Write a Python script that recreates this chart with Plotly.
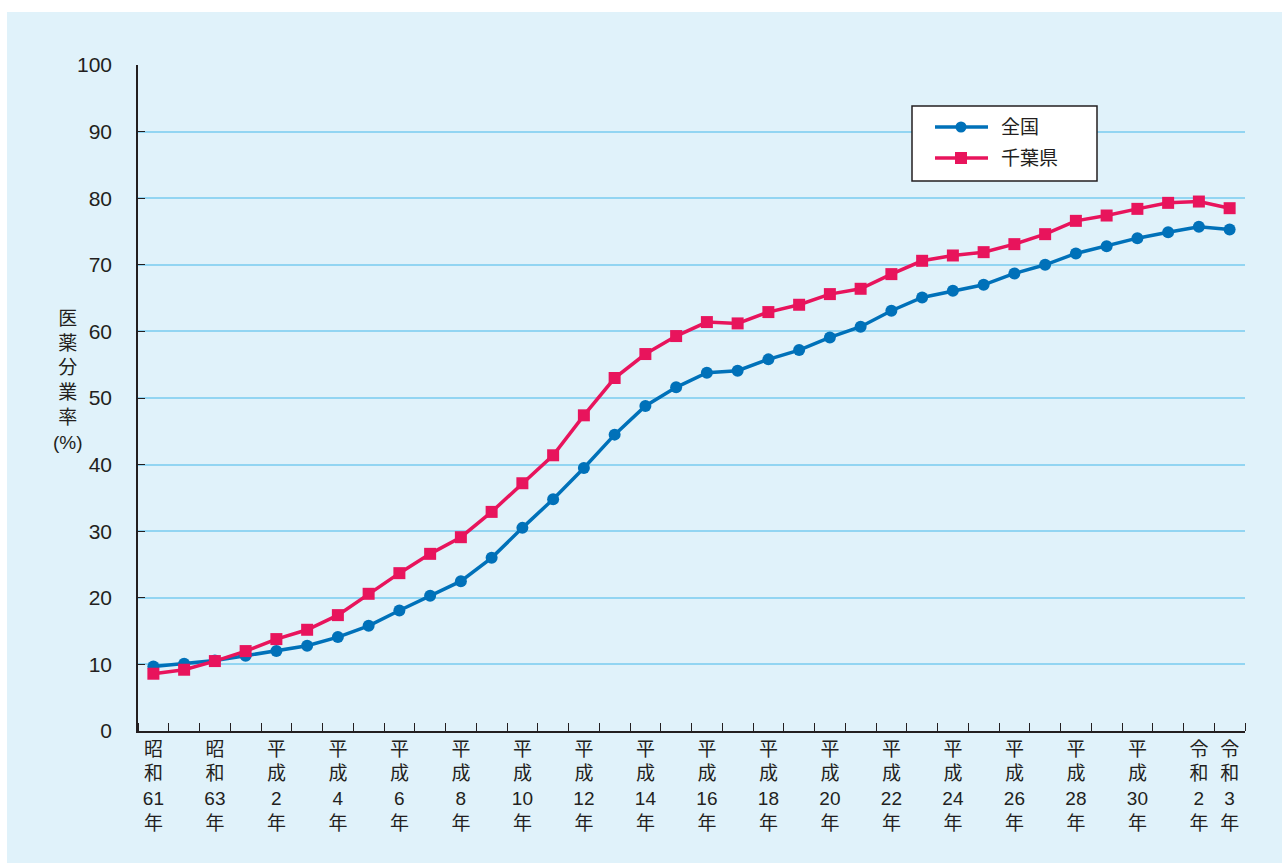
import plotly.graph_objects as go

# Fiscal-year labels (Showa 61 through Reiwa 3)
years = [
    "昭和61年", "昭和62年", "昭和63年", "平成元年", "平成2年", "平成3年", "平成4年",
    "平成5年", "平成6年", "平成7年", "平成8年", "平成9年", "平成10年", "平成11年",
    "平成12年", "平成13年", "平成14年", "平成15年", "平成16年", "平成17年", "平成18年",
    "平成19年", "平成20年", "平成21年", "平成22年", "平成23年", "平成24年", "平成25年",
    "平成26年", "平成27年", "平成28年", "平成29年", "平成30年", "令和元年", "令和2年",
    "令和3年",
]

# Prescription separation rate (%)
national = [
    9.7, 10.1, 10.6, 11.3, 12.0, 12.8, 14.1, 15.8, 18.1, 20.3, 22.5, 26.0,
    30.5, 34.8, 39.5, 44.5, 48.8, 51.6, 53.8, 54.1, 55.8, 57.2, 59.1, 60.7,
    63.1, 65.1, 66.1, 67.0, 68.7, 70.0, 71.7, 72.8, 74.0, 74.9, 75.7, 75.3,
]
chiba = [
    8.6, 9.2, 10.5, 12.0, 13.8, 15.2, 17.4, 20.6, 23.7, 26.6, 29.1, 32.9,
    37.2, 41.4, 47.4, 53.0, 56.6, 59.3, 61.4, 61.2, 62.9, 64.0, 65.6, 66.4,
    68.6, 70.6, 71.4, 71.9, 73.1, 74.6, 76.6, 77.4, 78.4, 79.3, 79.5, 78.5,
]

# Axis labels shown under the chart (stacked vertically)
label_idx = [0, 2, 4, 6, 8, 10, 12, 14, 16, 18, 20, 22, 24, 26, 28, 30, 32, 34, 35]
label_text = [
    "昭<br>和<br>61<br>年", "昭<br>和<br>63<br>年", "平<br>成<br>2<br>年",
    "平<br>成<br>4<br>年", "平<br>成<br>6<br>年", "平<br>成<br>8<br>年",
    "平<br>成<br>10<br>年", "平<br>成<br>12<br>年", "平<br>成<br>14<br>年",
    "平<br>成<br>16<br>年", "平<br>成<br>18<br>年", "平<br>成<br>20<br>年",
    "平<br>成<br>22<br>年", "平<br>成<br>24<br>年", "平<br>成<br>26<br>年",
    "平<br>成<br>28<br>年", "平<br>成<br>30<br>年", "令<br>和<br>2<br>年",
    "令<br>和<br>3<br>年",
]

FONT = "Liberation Sans, Noto Sans CJK JP, sans-serif"
BG = "#e0f2fa"
GRID = "#92d5f2"
BLUE = "#0071b9"
PINK = "#e8145c"
INK = "#231f20"

x = list(range(len(years)))

fig = go.Figure()
fig.add_trace(go.Scatter(
    x=x, y=national, name="全国", mode="lines+markers",
    line=dict(color=BLUE, width=3.5),
    marker=dict(symbol="circle", size=12, color=BLUE),
    customdata=years, hovertemplate="%{customdata}: %{y}%<extra>全国</extra>",
))
fig.add_trace(go.Scatter(
    x=x, y=chiba, name="千葉県", mode="lines+markers",
    line=dict(color=PINK, width=3.5),
    marker=dict(symbol="square", size=12, color=PINK),
    customdata=years, hovertemplate="%{customdata}: %{y}%<extra>千葉県</extra>",
))

L, R, T, B = 138, 37, 65, 132
W, H = 1282, 863
pw, ph = W - L - R, H - T - B

def px_x(p):
    return (p - L) / pw

def px_y(p):
    return (H - B - p) / ph

# light-blue panel behind the whole chart
fig.add_shape(
    type="rect", xref="paper", yref="paper", layer="below",
    x0=px_x(7), x1=px_x(1282), y0=px_y(863), y1=px_y(12),
    fillcolor=BG, line=dict(width=0),
)

# vertical y-axis title
fig.add_annotation(
    xref="paper", yref="paper", x=px_x(68), y=px_y(380),
    xanchor="center", yanchor="middle",
    text="医<br>薬<br>分<br>業<br>率<br>(%)", showarrow=False,
    font=dict(family=FONT, size=19, color=INK), align="center",
)

# legend box with line samples and markers
fig.add_shape(
    type="rect", xref="paper", yref="paper",
    x0=px_x(912), x1=px_x(1097), y0=px_y(181), y1=px_y(106),
    fillcolor="white", line=dict(color=INK, width=1.5),
)
legend_items = [("全国", BLUE, "circle", 127), ("千葉県", PINK, "square", 158)]
for name, color, sym, yy in legend_items:
    fig.add_shape(
        type="line", xref="paper", yref="paper",
        x0=px_x(935), x1=px_x(988), y0=px_y(yy), y1=px_y(yy),
        line=dict(color=color, width=3.5),
    )
    half = 5.5 if sym == "circle" else 6
    fig.add_shape(
        type=sym if sym == "circle" else "rect", xref="paper", yref="paper",
        x0=px_x(961 - half), x1=px_x(961 + half),
        y0=px_y(yy + half), y1=px_y(yy - half),
        fillcolor=color, line=dict(width=0),
    )
    fig.add_annotation(
        xref="paper", yref="paper", x=px_x(999), y=px_y(yy),
        xanchor="left", yanchor="middle", text=name, showarrow=False,
        font=dict(family=FONT, size=19, color=INK),
    )

fig.update_layout(
    width=W, height=H,
    margin=dict(l=L, r=R, t=T, b=B),
    paper_bgcolor="white", plot_bgcolor="rgba(0,0,0,0)",
    font=dict(family=FONT, size=18, color=INK),
    showlegend=False,
    xaxis=dict(
        range=[-0.5, 35.5], tickmode="array", tickvals=label_idx, ticktext=label_text,
        ticks="", showgrid=False, zeroline=False,
        showline=True, linecolor=INK, linewidth=1.5,
        tickfont=dict(family=FONT, size=19, color=INK),
        minor=dict(ticks="inside", tick0=0.5, dtick=1, ticklen=8,
                   tickcolor=INK, tickwidth=1.2, showgrid=False),
        fixedrange=True,
    ),
    yaxis=dict(
        range=[0, 100], tickmode="linear", tick0=0, dtick=10,
        ticks="inside", ticklen=7, tickcolor=INK, tickwidth=1.2,
        showgrid=True, gridcolor=GRID, gridwidth=1.5, zeroline=False,
        showline=True, linecolor=INK, linewidth=1.5,
        tickfont=dict(family=FONT, size=21, color=INK),
        ticklabelstandoff=20, fixedrange=True,
    ),
)

fig.write_html("out.html")
